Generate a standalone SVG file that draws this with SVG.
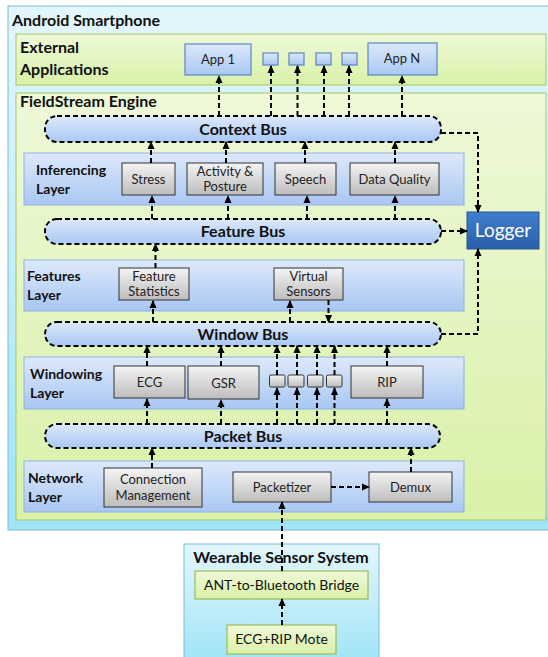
<svg xmlns="http://www.w3.org/2000/svg" width="548" height="657" viewBox="0 0 548 657">
<defs>
<linearGradient id="gCyan" x1="0" y1="0" x2="0" y2="1"><stop offset="0" stop-color="#e4f6fc"/><stop offset="1" stop-color="#9fe4f7"/></linearGradient>
<linearGradient id="gGreen" x1="0" y1="0" x2="0" y2="1"><stop offset="0" stop-color="#eef9d8"/><stop offset="1" stop-color="#d9f1a8"/></linearGradient>
<linearGradient id="gBlue" x1="0" y1="0" x2="0" y2="1"><stop offset="0" stop-color="#dde9fb"/><stop offset="1" stop-color="#a9c7f3"/></linearGradient>
<linearGradient id="gGray" x1="0" y1="0" x2="0" y2="1"><stop offset="0" stop-color="#f4f4f4"/><stop offset="1" stop-color="#bdbdbd"/></linearGradient>
<linearGradient id="gLog" x1="0" y1="0" x2="0" y2="1"><stop offset="0" stop-color="#3f7fcf"/><stop offset="1" stop-color="#2a5ea8"/></linearGradient>
<marker id="ah" markerWidth="8" markerHeight="8" refX="7" refY="4" orient="auto" markerUnits="userSpaceOnUse"><path d="M0,0.5 L8,4 L0,7.5 z" fill="#000"/></marker>
</defs>
<style>
.t{font-family:Lato,"Open Sans","Liberation Sans",sans-serif;fill:#111}
.h{font-weight:bold;font-size:16px}
.lab{font-weight:bold;font-size:14px}
.bus{font-weight:bold;font-size:16px;text-anchor:middle}
.bx{font-size:13px;text-anchor:middle;fill:#222}
.cyan{fill:url(#gCyan);stroke:#79bcd6;stroke-width:1}
.green{fill:url(#gGreen);stroke:#a6c86a;stroke-width:1}
.layer{fill:url(#gBlue);stroke:#8fb1e2;stroke-width:1}
.busr{fill:url(#gBlue);stroke:#000;stroke-width:2;stroke-dasharray:5,3}
.gray{fill:url(#gGray);stroke:#333;stroke-width:1}
.app{fill:url(#gBlue);stroke:#5a86c4;stroke-width:1.2}
.gbox{fill:url(#gGreen);stroke:#9bbb59;stroke-width:1.2}
.c{fill:none;stroke:#000;stroke-width:2;stroke-dasharray:5,3;marker-end:url(#ah)}
.cn{fill:none;stroke:#000;stroke-width:2;stroke-dasharray:5,3}
</style>

<g id="android">
<rect class="cyan" x="8" y="6" width="560" height="524"/>
<text class="t h" x="12" y="26">Android Smartphone</text>
</g>

<g id="external">
<rect class="green" x="16" y="34" width="530" height="51"/>
<text class="t h" x="20" y="53">External</text>
<text class="t h" x="20" y="75">Applications</text>
</g>
<g id="app1"><rect class="app" x="185" y="44" width="66" height="31"/><text class="t bx" x="218" y="64">App 1</text></g>
<g id="appa"><rect class="app" x="263" y="53" width="15" height="12"/></g>
<g id="appb"><rect class="app" x="289" y="53" width="15" height="12"/></g>
<g id="appc"><rect class="app" x="316" y="53" width="15" height="12"/></g>
<g id="appd"><rect class="app" x="342" y="53" width="15" height="12"/></g>
<g id="appn"><rect class="app" x="368" y="43" width="69" height="32"/><text class="t bx" x="402" y="63">App N</text></g>

<g id="fieldstream">
<rect class="green" x="16" y="93" width="530" height="427"/>
<text class="t h" x="20" y="107">FieldStream Engine</text>
</g>

<g id="contextbus"><rect class="busr" x="45" y="116" width="396" height="26" rx="12"/><text class="t bus" x="243" y="135">Context Bus</text></g>

<g id="inferencing">
<rect class="layer" x="24" y="153" width="440" height="52"/>
<text class="t lab" x="36" y="175">Inferencing</text>
<text class="t lab" x="36" y="194">Layer</text>
</g>
<g id="stress"><rect class="gray" x="122" y="163" width="53" height="32"/><text class="t bx" x="148.5" y="184">Stress</text></g>
<g id="activity"><rect class="gray" x="187" y="163" width="76" height="32"/><text class="t bx" x="225" y="176">Activity &amp;</text><text class="t bx" x="225" y="191">Posture</text></g>
<g id="speech"><rect class="gray" x="275" y="163" width="61" height="32"/><text class="t bx" x="305.5" y="184">Speech</text></g>
<g id="dataquality"><rect class="gray" x="350" y="163" width="89" height="32"/><text class="t bx" x="394.5" y="184">Data Quality</text></g>

<g id="featurebus"><rect class="busr" x="45" y="219" width="396" height="25" rx="12"/><text class="t bus" x="243" y="237">Feature Bus</text></g>

<g id="logger"><rect x="467" y="212" width="72" height="37" fill="url(#gLog)" stroke="#2a5595" stroke-width="1"/><text x="503" y="237" font-family="Lato,'Open Sans','Liberation Sans',sans-serif" font-size="19" fill="#fff" text-anchor="middle">Logger</text></g>

<g id="features">
<rect class="layer" x="24" y="260" width="440" height="51"/>
<text class="t lab" x="27" y="281">Features</text>
<text class="t lab" x="27" y="300">Layer</text>
</g>
<g id="featurestats"><rect class="gray" x="119" y="268" width="70" height="32"/><text class="t bx" x="154" y="281">Feature</text><text class="t bx" x="154" y="296">Statistics</text></g>
<g id="virtualsensors"><rect class="gray" x="274" y="268" width="69" height="32"/><text class="t bx" x="308.5" y="281">Virtual</text><text class="t bx" x="308.5" y="296">Sensors</text></g>

<g id="windowbus"><rect class="busr" x="45" y="322" width="396" height="24" rx="12"/><text class="t bus" x="243" y="340">Window Bus</text></g>

<g id="windowing">
<rect class="layer" x="24" y="357" width="440" height="52"/>
<text class="t lab" x="30" y="379">Windowing</text>
<text class="t lab" x="30" y="398">Layer</text>
</g>
<g id="ecg"><rect class="gray" x="114" y="366" width="71" height="32"/><text class="t bx" x="149.5" y="387">ECG</text></g>
<g id="gsr"><rect class="gray" x="188" y="366" width="71" height="33"/><text class="t bx" x="223.5" y="388">GSR</text></g>
<g id="w1"><rect class="gray" x="269.5" y="375" width="15.5" height="12" rx="1.5"/></g>
<g id="w2"><rect class="gray" x="288" y="375" width="16" height="12" rx="1.5"/></g>
<g id="w3"><rect class="gray" x="307.5" y="375" width="15.5" height="12" rx="1.5"/></g>
<g id="w4"><rect class="gray" x="326.5" y="375" width="15.5" height="12" rx="1.5"/></g>
<g id="rip"><rect class="gray" x="351" y="366" width="72" height="32"/><text class="t bx" x="387" y="387">RIP</text></g>

<g id="packetbus"><rect class="busr" x="45" y="424" width="395" height="24" rx="12"/><text class="t bus" x="243" y="442">Packet Bus</text></g>

<g id="network">
<rect class="layer" x="24" y="461" width="440" height="51"/>
<text class="t lab" x="28" y="483">Network</text>
<text class="t lab" x="28" y="502">Layer</text>
</g>
<g id="connmgmt"><rect class="gray" x="104" y="468" width="98" height="39"/><text class="t bx" x="153" y="484">Connection</text><text class="t bx" x="153" y="500">Management</text></g>
<g id="packetizer"><rect class="gray" x="233" y="472" width="98" height="30"/><text class="t bx" x="282" y="492">Packetizer</text></g>
<g id="demux"><rect class="gray" x="369" y="472" width="83" height="30"/><text class="t bx" x="410.5" y="492">Demux</text></g>

<g id="wearable">
<rect class="cyan" x="184" y="544" width="195" height="120"/>
<text class="t h" x="281" y="563" text-anchor="middle">Wearable Sensor System</text>
</g>
<g id="bridge"><rect class="gbox" x="195" y="571" width="173" height="28"/><text class="t" x="281.5" y="590" font-size="14" text-anchor="middle">ANT-to-Bluetooth Bridge</text></g>
<g id="mote"><rect class="gbox" x="227" y="625" width="109" height="29"/><text class="t" x="281.5" y="644" font-size="14" text-anchor="middle">ECG+RIP Mote</text></g>

<g id="connectors">
<path class="c" d="M219,116 V76"/>
<path class="c" d="M271,116 V66"/>
<path class="c" d="M297.5,116 V66"/>
<path class="c" d="M324,116 V66"/>
<path class="c" d="M349,116 V66"/>
<path class="c" d="M402,116 V76"/>
<path class="c" d="M151,163 V142"/>
<path class="c" d="M226,163 V142"/>
<path class="c" d="M305,163 V142"/>
<path class="c" d="M395,163 V142"/>
<path class="c" d="M152,219 V196"/>
<path class="c" d="M228,219 V196"/>
<path class="c" d="M307,219 V196"/>
<path class="c" d="M395,219 V196"/>
<path class="c" d="M155.5,268 V244"/>
<path class="c" d="M153,322 V301"/>
<path class="c" d="M290,322 V301"/>
<path class="c" d="M328.5,300 V322"/>
<path class="c" d="M147,366 V346"/>
<path class="c" d="M221,366 V346"/>
<path class="c" d="M277,375 V346"/>
<path class="c" d="M297,375 V346"/>
<path class="c" d="M317,375 V346"/>
<path class="c" d="M334.5,375 V346"/>
<path class="c" d="M387,366 V346"/>
<path class="c" d="M147,424 V399"/>
<path class="c" d="M221,424 V400"/>
<path class="c" d="M277,424 V388"/>
<path class="c" d="M297,424 V388"/>
<path class="c" d="M317,424 V388"/>
<path class="c" d="M334.5,424 V388"/>
<path class="c" d="M387,424 V399"/>
<path class="c" d="M152,468 V448"/>
<path class="c" d="M411,472 V448"/>
<path class="c" d="M331,487 H369"/>
<path class="c" d="M282,571 V502"/>
<path class="c" d="M282,625 V599"/>
<path class="c" d="M441,133 H478 V212"/>
<path class="c" d="M441,231 H467"/>
<path class="c" d="M441,334 H478 V249"/>
</g>
</svg>
